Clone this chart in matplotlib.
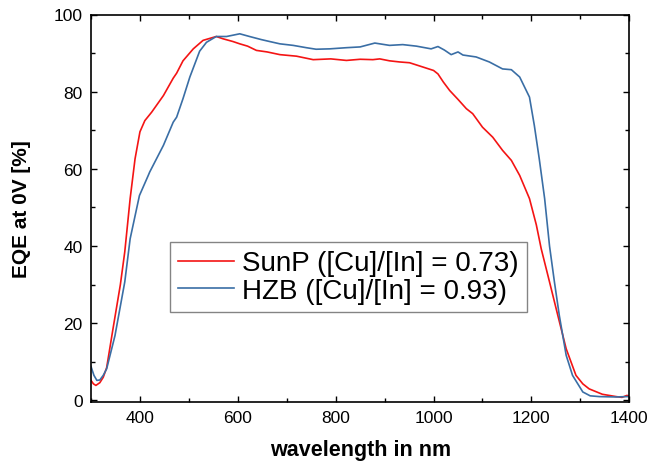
import matplotlib
matplotlib.use("Agg")
import matplotlib.pyplot as plt
from matplotlib.ticker import MultipleLocator

plt.rcParams['font.family'] = ['Liberation Sans', 'DejaVu Sans']

# SunP ([Cu]/[In] = 0.73)
sunp_wl = [300, 305, 310, 318, 325, 332, 345, 360, 369, 380, 390, 400, 410, 424, 448,
           468, 475, 488, 509, 529, 556, 570, 590, 604, 620, 638, 660, 686, 720, 754,
           790, 822, 850, 876, 890, 910, 931, 951, 978, 1000, 1009, 1020, 1033, 1050,
           1067, 1080, 1100, 1121, 1141, 1159, 1176, 1196, 1210, 1220, 1237, 1254,
           1271, 1291, 1305, 1318, 1345, 1373, 1385, 1395, 1400]
sunp_eqe = [5.2, 4.3, 3.9, 4.6, 6.0, 8.5, 18.6, 30.0, 38.5, 52.3, 62.6, 69.6, 72.5, 74.7, 79.0,
            83.5, 84.8, 88.0, 91.1, 93.3, 94.3, 93.7, 93.0, 92.4, 91.8, 90.7, 90.3, 89.6, 89.2, 88.3,
            88.5, 88.1, 88.4, 88.3, 88.5, 88.0, 87.7, 87.5, 86.4, 85.5, 84.6, 82.5, 80.3, 78.0,
            75.6, 74.3, 70.8, 68.2, 64.8, 62.2, 58.3, 52.3, 45.5, 39.3, 30.7, 22.0,
            13.4, 6.5, 4.3, 3.0, 1.6, 1.0, 0.8, 1.3, 1.2]

# HZB ([Cu]/[In] = 0.93)
hzb_wl = [300, 306, 312, 318, 325, 332, 349, 369, 380, 399, 417, 420, 448, 468, 475,
          488, 502, 522, 536, 556, 577, 604, 624, 648, 665, 686, 713, 740, 760, 788,
          822, 850, 880, 910, 937, 965, 995, 1009, 1022, 1036, 1050, 1060, 1087, 1114,
          1141, 1159, 1176, 1196, 1206, 1216, 1227, 1237, 1247, 1257, 1271, 1284,
          1305, 1320, 1339, 1373, 1395, 1400]
hzb_eqe = [8.8, 6.5, 5.2, 5.3, 6.5, 8.2, 16.8, 30.7, 41.9, 53.1, 58.3, 59.2, 66.1, 72.1, 73.4,
           78.2, 83.8, 90.5, 92.8, 94.3, 94.3, 95.0, 94.3, 93.5, 93.0, 92.4, 92.0, 91.4, 91.0, 91.1,
           91.4, 91.6, 92.6, 92.0, 92.2, 91.8, 91.1, 91.7, 90.8, 89.6, 90.3, 89.5, 89.0, 87.7,
           85.9, 85.7, 83.8, 78.6, 71.2, 62.6, 52.3, 40.0, 30.7, 22.0, 11.7, 6.5,
           2.2, 1.2, 1.0, 0.9, 1.0, 1.0]

labels = ['SunP ([Cu]/[In] = 0.73)', 'HZB ([Cu]/[In] = 0.93)']
colors = ['#f41414', '#3a6ea5']

fig = plt.figure(figsize=(6.47, 4.64), dpi=100)
ax = fig.add_axes([91/647, 1 - 403/464, (629.3 - 91)/647, (403 - 15.5)/464])

ax.plot(sunp_wl, sunp_eqe, color=colors[0], lw=1.2, label=labels[0])
ax.plot(hzb_wl, hzb_eqe, color=colors[1], lw=1.2, label=labels[1])

ax.set_xlim(300, 1400)
ax.set_ylim(-0.4, 100)
ax.xaxis.set_major_locator(MultipleLocator(200))
ax.xaxis.set_minor_locator(MultipleLocator(100))
ax.yaxis.set_major_locator(MultipleLocator(20))
ax.yaxis.set_minor_locator(MultipleLocator(10))
ax.set_xticks([400, 600, 800, 1000, 1200, 1400])
ax.tick_params(which='both', direction='in', top=True, right=True, labelsize=12.5, width=1.0)
ax.tick_params(which='major', length=4.5, pad=6)
ax.tick_params(which='minor', length=3)
for s in ax.spines.values():
    s.set_linewidth(1.2)

ax.set_xlabel('wavelength in nm', fontsize=15.5, fontweight='bold', labelpad=10)
ax.set_ylabel('EQE at 0V [%]', fontsize=15, fontweight='bold', labelpad=16)

leg = ax.legend(loc='upper left', bbox_to_anchor=((170 - 91)/538.3, 1 - (243 - 15.5)/387.5),
                fontsize=20, frameon=True, fancybox=False, edgecolor='#666666',
                handlelength=2.0, handletextpad=0.3, borderpad=0.3, labelspacing=0.05,
                borderaxespad=0)
leg.get_frame().set_linewidth(1.0)

fig.savefig('out.png', dpi=100)
